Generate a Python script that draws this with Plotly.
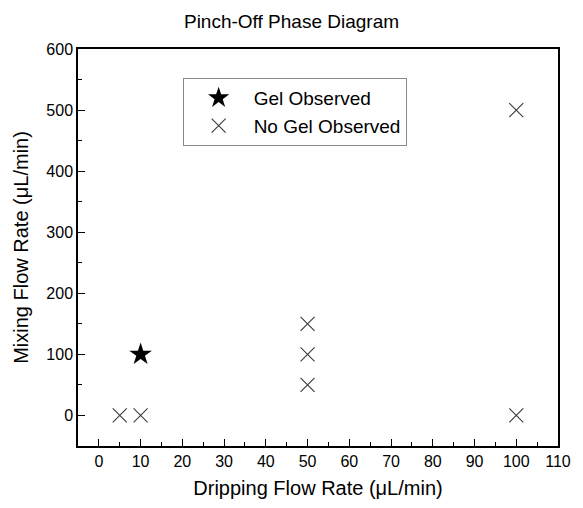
import plotly.graph_objects as go

gel_x = [10]
gel_y = [100]
nogel_x = [5, 10, 50, 50, 50, 100, 100]
nogel_y = [0, 0, 50, 100, 150, 0, 500]

x_ticks = list(range(0, 111, 10))
y_ticks = list(range(0, 601, 100))

fig = go.Figure()
fig.add_trace(go.Scatter(
    x=gel_x, y=gel_y, mode="markers", name="Gel Observed",
    marker=dict(symbol="star", size=17, color="black", line=dict(width=0)),
))
fig.add_trace(go.Scatter(
    x=nogel_x, y=nogel_y, mode="markers", name="No Gel Observed",
    marker=dict(symbol="x-thin", size=14, color="#3a3a3a",
                line=dict(width=1.1, color="#3a3a3a")),
))

font = "Liberation Sans, Arial, sans-serif"
fig.update_layout(
    width=583, height=508,
    margin=dict(l=78, r=14, t=49, b=60),
    paper_bgcolor="white", plot_bgcolor="white",
    font=dict(family=font, size=16, color="black"),
    title=dict(text="Pinch-Off Phase Diagram", x=0.5, xanchor="center",
               y=0.957, yanchor="middle", font=dict(size=19)),
    showlegend=True,
    legend=dict(x=0.218, y=0.927, xanchor="left", yanchor="top",
                bordercolor="#888888", borderwidth=1, bgcolor="white",
                font=dict(size=19), itemwidth=60, tracegroupgap=0),
)
fig.update_xaxes(
    range=[-5, 110], tickvals=x_ticks, ticks="inside", ticklen=7,
    tickwidth=1.2, tickcolor="black",
    minor=dict(dtick=5, tick0=0, ticks="inside", ticklen=4, tickcolor="black", tickwidth=1.2),
    showline=True, linecolor="black", linewidth=1.5, mirror=True,
    showgrid=False, zeroline=False,
    title=dict(text="Dripping Flow Rate (μL/min)", font=dict(size=20), standoff=12),
    tickfont=dict(size=16),
)
fig.update_yaxes(
    range=[-50, 600], tickvals=y_ticks, ticks="inside", ticklen=7,
    tickwidth=1.2, tickcolor="black",
    minor=dict(dtick=50, tick0=0, ticks="inside", ticklen=4, tickcolor="black", tickwidth=1.2),
    showline=True, linecolor="black", linewidth=1.5, mirror=True,
    showgrid=False, zeroline=False,
    title=dict(text="Mixing Flow Rate (μL/min)", font=dict(size=20), standoff=12),
    tickfont=dict(size=16),
)

fig.write_html("out.html")
